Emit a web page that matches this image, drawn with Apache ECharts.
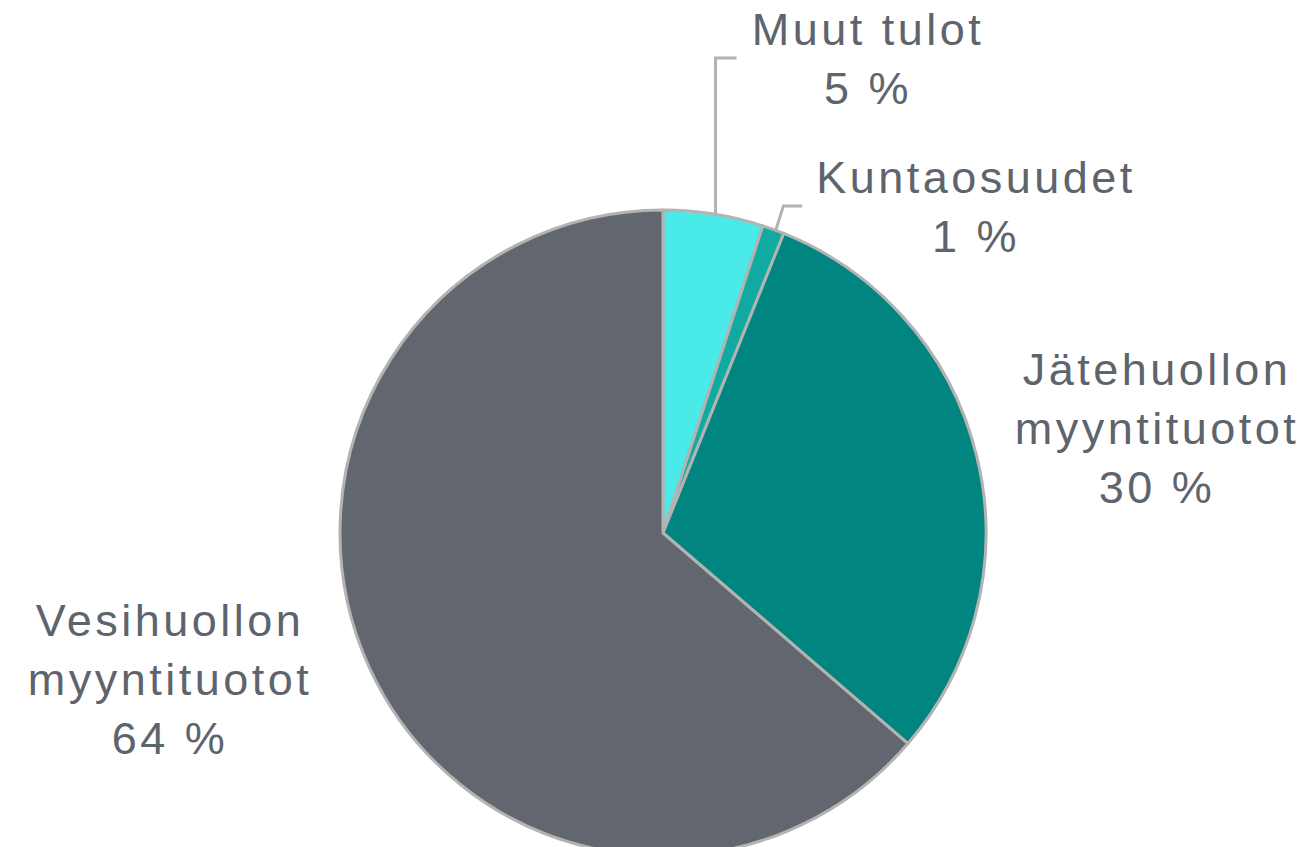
<!DOCTYPE html>
<html>
<head>
<meta charset="utf-8">
<script src="https://cdn.jsdelivr.net/npm/echarts@6/dist/echarts.min.js"></script>
<style>
  html, body { margin: 0; padding: 0; background: #fff; }
  #chart { width: 1315px; height: 847px; }
  /* Excel-like wide letter spacing on the labels */
  #chart text { letter-spacing: 3.5px; }
</style>
</head>
<body>
<div id="chart"></div>
<script>
// data
var categories = ['Muut tulot', 'Kuntaosuudet', 'Jätehuollon myyntituotot', 'Vesihuollon myyntituotot'];
var values = [5.0, 1.1, 30.2, 63.7];
var colors = ['#4aeae8', '#10aaa0', '#008580', '#62666e'];

// label placement (centre x, middle y) and leader line hints
var labelPos = [[868, 59], [976, 207], [1157, 428], [170, 679]];
var showLine = [true, true, false, false];

var mychart = echarts.init(document.getElementById('chart'), null, { renderer: 'svg' });

mychart.setOption({
  animation: false,
  series: [
    {
      type: 'pie',
      center: [663, 533],
      radius: 323,
      startAngle: 90,
      clockwise: true,
      avoidLabelOverlap: false,
      percentPrecision: 0,
      itemStyle: {
        borderColor: '#b3b3b3',
        borderWidth: 3
      },
      label: {
        show: true,
        position: 'outside',
        color: '#5e646c',
        fontFamily: 'Liberation Sans, Arial, sans-serif',
        fontSize: 45,
        lineHeight: 59,
        align: 'center',
        overflow: 'none',
        formatter: function (p) {
          return p.name.replace(' myyntituotot', '\nmyyntituotot') + '\n' + p.percent + ' %';
        }
      },
      labelLine: {
        show: true,
        lineStyle: { color: '#b3b3b3', width: 3 }
      },
      labelLayout: function (params) {
        var i = params.dataIndex;
        var pos = labelPos[i];
        var res = { x: pos[0], y: pos[1], align: 'center', verticalAlign: 'middle', hideOverlap: false };
        var pts = params.labelLinePoints;
        if (showLine[i] && pts) {
          var p0 = pts[0];
          if (i === 0) {
            // vertical up from the edge, then right to the label
            res.labelLinePoints = [[p0[0] + 2, p0[1]], [p0[0] + 2, pos[1] - 1], [p0[0] + 23, pos[1] - 1]];
          } else {
            // short radial segment, then right
            res.labelLinePoints = [[p0[0] + 2, p0[1] + 2], [p0[0] + 10, pos[1] - 1], [p0[0] + 29, pos[1] - 1]];
          }
        }
        return res;
      },
      emphasis: { disabled: true },
      data: categories.map(function (c, i) {
        return {
          name: c,
          value: values[i],
          itemStyle: { color: colors[i] },
          labelLine: { show: showLine[i] }
        };
      })
    }
  ]
});

window.addEventListener('resize', function () {
  mychart.resize();
});
</script>
</body>
</html>
